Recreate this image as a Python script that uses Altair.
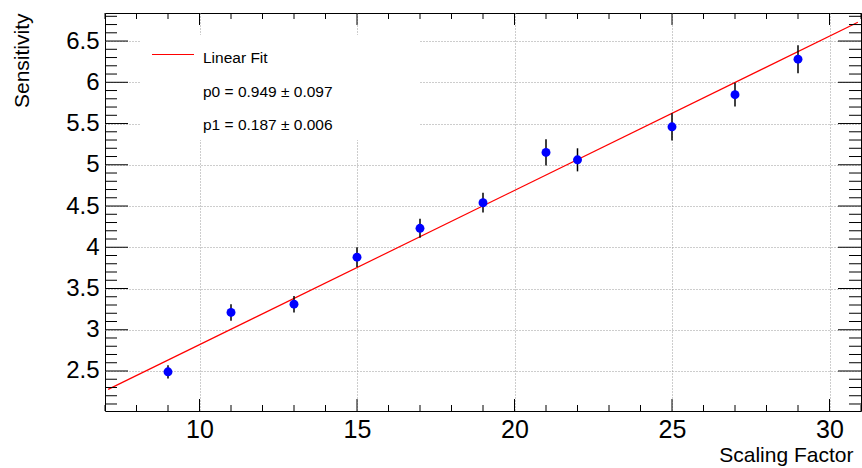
import altair as alt
import pandas as pd

# ---- data ----
scaling = [9, 11, 13, 15, 17, 19, 21, 22, 25, 27, 29]
sensitivity = [2.49, 3.21, 3.31, 3.88, 4.23, 4.54, 5.15, 5.06, 5.46, 5.85, 6.28]
errors = [0.08, 0.10, 0.10, 0.12, 0.115, 0.12, 0.16, 0.14, 0.165, 0.145, 0.17]

p0, p1 = 0.949, 0.187
fit_range = [7.1, 30.9]
legend_labels = ["Linear Fit", "p0 = 0.949 \u00b1 0.097", "p1 = 0.187 \u00b1 0.006"]

x_major = [10, 15, 20, 25, 30]
x_minor = [7, 8, 9, 11, 12, 13, 14, 16, 17, 18, 19, 21, 22, 23, 24, 26, 27, 28, 29, 31]
y_major = [2.5, 3.0, 3.5, 4.0, 4.5, 5.0, 5.5, 6.0, 6.5]
y_minor = [2.1, 2.2, 2.3, 2.4, 2.6, 2.7, 2.8, 2.9, 3.1, 3.2, 3.3, 3.4, 3.6, 3.7, 3.8, 3.9,
           4.1, 4.2, 4.3, 4.4, 4.6, 4.7, 4.8, 4.9, 5.1, 5.2, 5.3, 5.4, 5.6, 5.7, 5.8, 5.9,
           6.1, 6.2, 6.3, 6.4, 6.6, 6.7, 6.8]

x_domain = [7, 31]
y_domain = [2.015, 6.84]

W, H = 756, 398
FONT = "Liberation Sans"

pts = pd.DataFrame({"x": scaling, "y": sensitivity, "e": errors})
pts["lo"] = pts["y"] - pts["e"]
pts["hi"] = pts["y"] + pts["e"]
fit = pd.DataFrame({"x": fit_range, "y": [p0 + p1 * v for v in fit_range]})

xs = alt.Scale(domain=x_domain, nice=False, zero=False)
ys = alt.Scale(domain=y_domain, nice=False, zero=False)

x_axis = alt.Axis(values=x_major, grid=True, gridDash=[1, 2], gridColor="#9a9a9a",
                  gridWidth=1, domain=False, ticks=False, tickSize=0, labelFont=FONT,
                  labelFontSize=25, labelColor="black", labelPadding=6,
                  title="Scaling Factor", titleFont=FONT, titleFontSize=21,
                  titleFontWeight="normal", titleColor="black", titleAlign="right",
                  titleBaseline="alphabetic", titleX=748, titleY=50)
y_axis = alt.Axis(values=y_major, grid=True, gridDash=[1, 2], gridColor="#9a9a9a",
                  gridWidth=1, domain=False, ticks=False, tickSize=0, labelFont=FONT,
                  labelFontSize=24, labelColor="black", labelPadding=6,
                  labelExpr="format(datum.value, '~g')",
                  title="Sensitivity", titleFont=FONT, titleFontSize=21,
                  titleFontWeight="normal", titleColor="black", titleAngle=-90,
                  titleAlign="right", titleBaseline="alphabetic", titleX=-77, titleY=0)

X = lambda f: alt.X(f, scale=xs, axis=x_axis)
Y = lambda f: alt.Y(f, scale=ys, axis=y_axis)

# error bars
ebars = alt.Chart(pts).mark_rule(color="black", strokeWidth=1.5).encode(
    x=X("x:Q"), y=Y("lo:Q"), y2="hi:Q")

points = alt.Chart(pts).mark_circle(color="#0000ff", opacity=1, size=80).encode(
    x=X("x:Q"), y=Y("y:Q"))

fitline = alt.Chart(fit).mark_line(color="#ff0000", strokeWidth=1.2).encode(
    x=X("x:Q"), y=Y("y:Q"))

one = pd.DataFrame({"k": [0]})

legend_box = alt.Chart(one).mark_rect(color="white").encode(
    x=alt.value(35), x2=alt.value(315), y=alt.value(22), y2=alt.value(127))
legend_line = alt.Chart(one).mark_rule(color="#ff0000", strokeWidth=1.2).encode(
    x=alt.value(47), x2=alt.value(89), y=alt.value(41.5))

legend_texts = []
for lab, yy in zip(legend_labels, [49.5, 83.5, 117]):
    legend_texts.append(
        alt.Chart(pd.DataFrame({"t": [lab]})).mark_text(
            font=FONT, fontSize=15.5, color="black", align="left", baseline="alphabetic"
        ).encode(x=alt.value(98), y=alt.value(yy), text="t:N")
    )

def xticks(vals, length):
    d = pd.DataFrame({"x": vals})
    bot = alt.Chart(d).mark_rule(color="black", strokeWidth=1).encode(
        x=X("x:Q"), y=alt.value(H), y2=alt.value(H - length))
    top = alt.Chart(d).mark_rule(color="black", strokeWidth=1).encode(
        x=X("x:Q"), y=alt.value(0), y2=alt.value(length))
    return [bot, top]

def yticks(vals, length):
    d = pd.DataFrame({"y": vals})
    left = alt.Chart(d).mark_rule(color="black", strokeWidth=1).encode(
        y=Y("y:Q"), x=alt.value(0), x2=alt.value(length))
    right = alt.Chart(d).mark_rule(color="black", strokeWidth=1).encode(
        y=Y("y:Q"), x=alt.value(W), x2=alt.value(W - length))
    return [left, right]

ticks = xticks(x_major, 12) + xticks(x_minor, 6) + yticks(y_major, 23) + yticks(y_minor, 12)

chart = alt.layer(
    legend_box, fitline, ebars, points, legend_line, *legend_texts, *ticks
).properties(
    width=W, height=H,
    autosize=alt.AutoSizeParams(type="none"),
    padding={"left": 105, "top": 13, "right": 1, "bottom": 57},
    background="white",
).configure_view(stroke="black", strokeWidth=1)

chart.save("out.html", embed_options={"renderer": "svg", "actions": False})
